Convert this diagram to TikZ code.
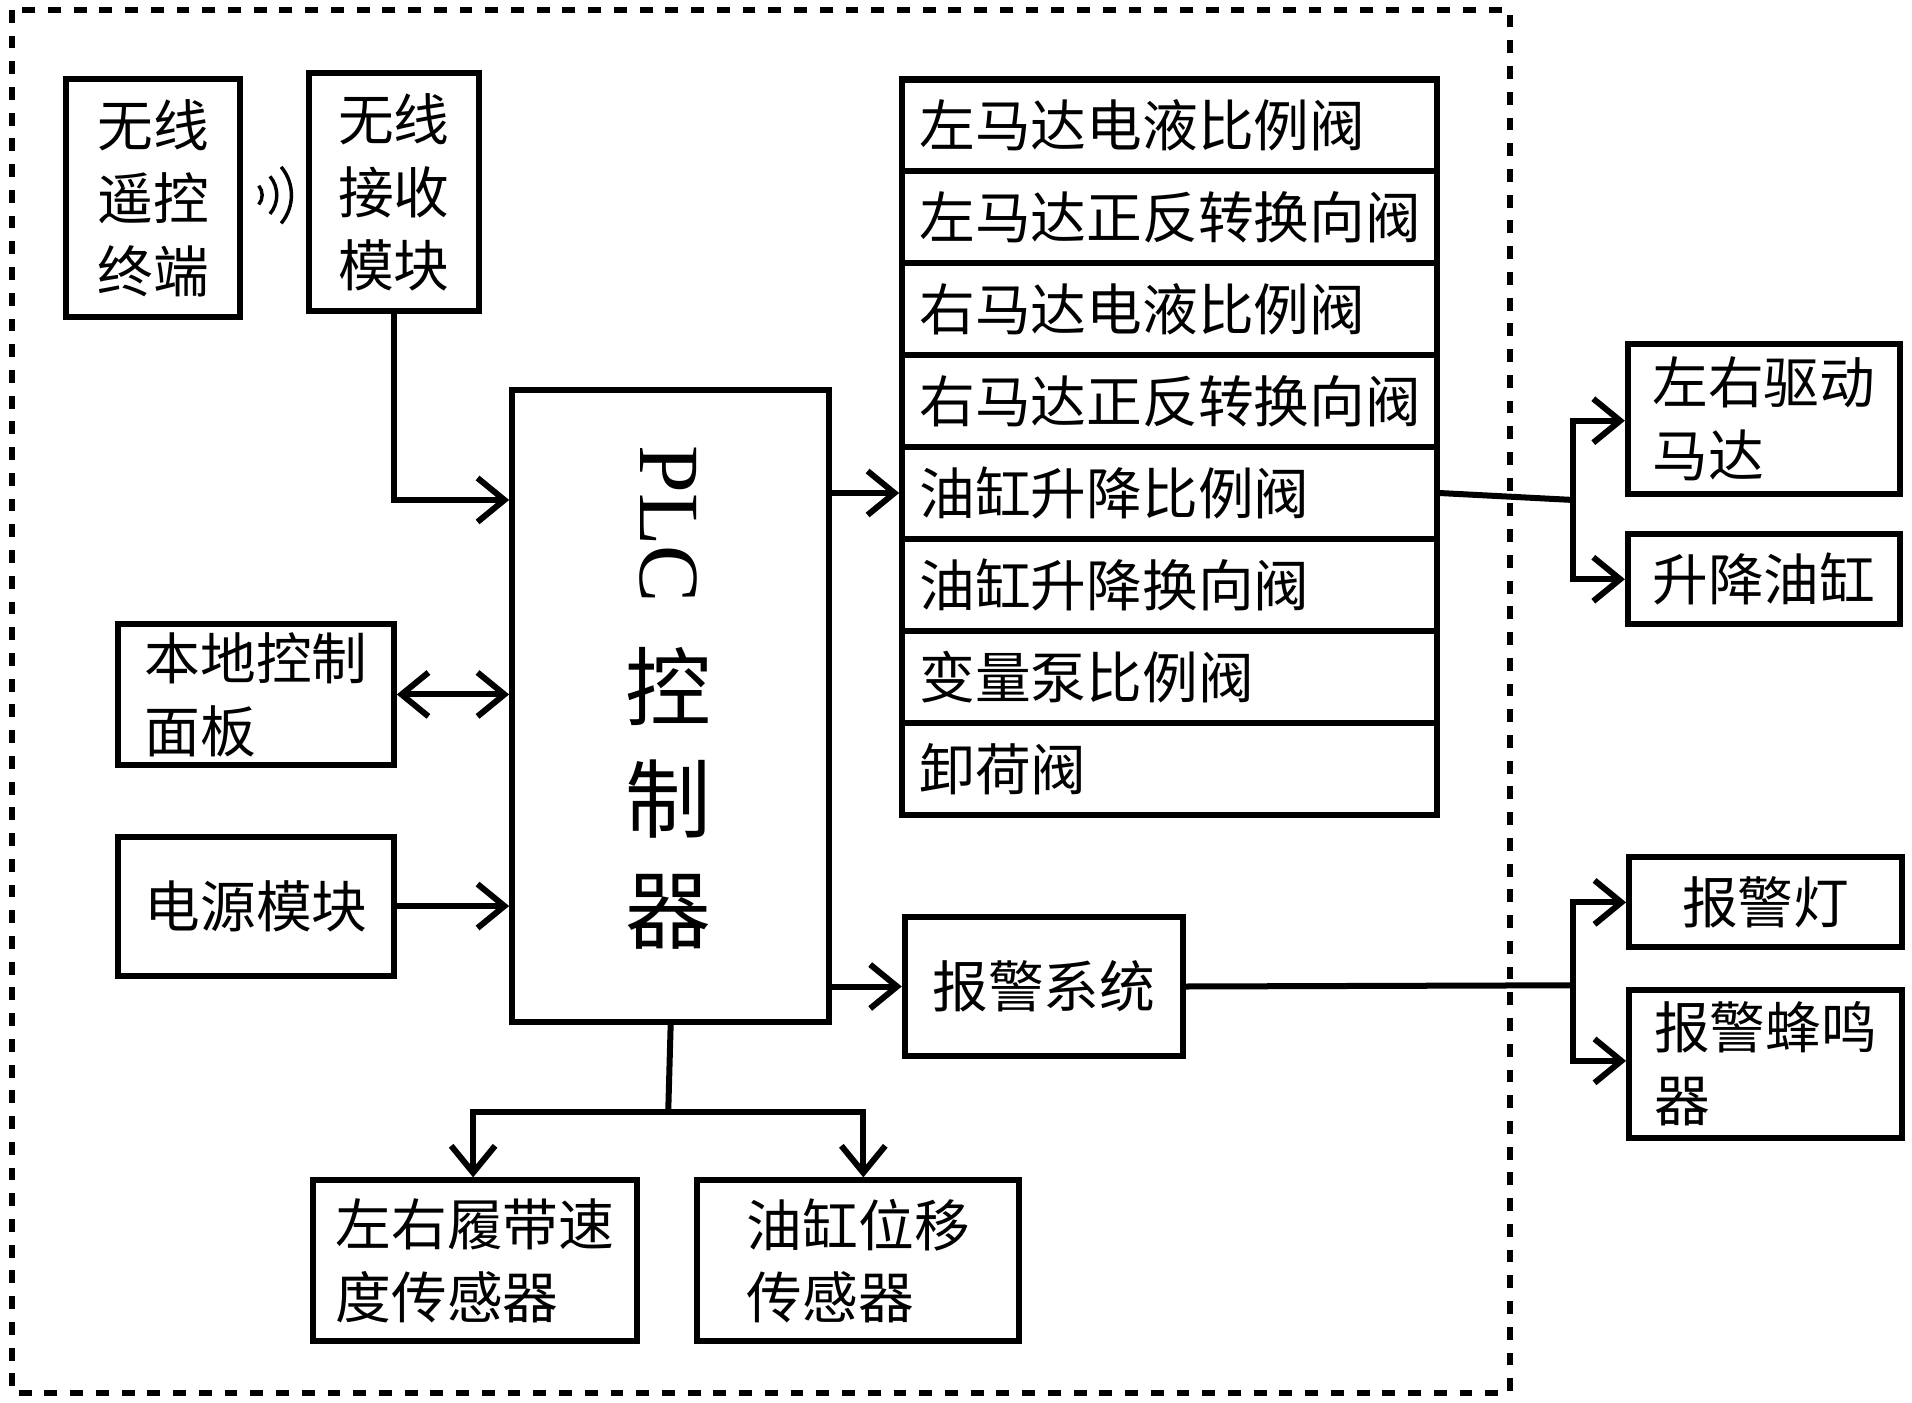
\documentclass[tikz,border=0pt]{standalone}
\usepackage{fontspec}
\setmainfont{Liberation Serif}
\newfontfamily\cjk{Noto Sans CJK SC}
\usetikzlibrary{arrows.meta}
\newcommand{\boxat}[6]{%
  \node[box, minimum width={(#4-#2)*0.01cm}, minimum height={(#5-#3)*0.01cm}]
    (#1) at ({(#2+#4)/2},{(#3+#5)/2}) {#6};}
\begin{document}
\begin{tikzpicture}[x=0.01cm, y=-0.01cm,
    font=\cjk\fontsize{13}{17}\selectfont,
    >={Straight Barb[length=2.2mm,width=3.6mm]},
  ]

  \tikzstyle{box} = [rectangle, draw=black, line width=1.4pt, inner sep=2pt, align=left];
  \tikzstyle{row} = [rectangle, draw=black, line width=1.4pt, minimum width=4.38cm,
                     minimum height=0.75cm, text width=4.1cm, align=left];
  \tikzstyle{wire} = [line width=1.4pt];

  \useasboundingbox (0,0) rectangle (1568,1150);
  \draw[line width=1.4pt, dashed] (10,8) rectangle (1238,1142);

  % Nodes
  \boxat{remote}{54}{65}{197}{260}{无线\\遥控\\终端}
  \boxat{recv}{253}{60}{393}{255}{无线\\接收\\模块}
  \boxat{plc}{420}{320}{680}{838}{}
  \boxat{panel}{97}{512}{323}{627}{本地控制\\面板}
  \boxat{power}{97}{686}{323}{800}{电源模块}
  \boxat{motor}{1335}{282}{1558}{405}{左右驱动\\马达}
  \boxat{cyl}{1335}{438}{1558}{512}{升降油缸}
  \boxat{alarm}{742}{752}{970}{866}{报警系统}
  \boxat{lamp}{1336}{703}{1560}{777}{报警灯}
  \boxat{buzz}{1336}{812}{1560}{933}{报警蜂鸣\\器}
  \boxat{speed}{257}{968}{522}{1100}{左右履带速\\度传感器}
  \boxat{disp}{572}{968}{836}{1100}{油缸位移\\传感器}

  \node[font=\fontsize{20}{24}\selectfont, rotate=-90] (plctxt) at (548,430) {PLC};
  \node[font=\cjk\fontsize{20}{24}\selectfont, align=center] (plccn) at (548,655) {控\\[2pt]制\\[2pt]器};

  % valve stack
  \foreach \t [count=\i] in {左马达电液比例阀, 左马达正反转换向阀, 右马达电液比例阀,
      右马达正反转换向阀, 油缸升降比例阀, 油缸升降换向阀, 变量泵比例阀, 卸荷阀}
    \node[row] (v\i) at (959,{65+75.4*(\i-0.5)}) {\t};

  % wireless waves
  \foreach \r in {12,24,36}
    \draw[line width=0.8pt] ([shift={(-40:\r)}]203,160) arc (-40:40:\r);

  % Arrows
  \draw[wire, ->] (recv.south) |- (plc.west |- 0,410);
  \draw[wire, <->] (panel.east) -- (plc.west |- panel.east);
  \draw[wire, ->] (power.east) -- (plc.west |- power.east);
  \draw[wire, ->] (plc.east |- v5.west) -- (v5.west);
  \draw[wire, ->] (plc.east |- alarm.west) -- (alarm.west);

  \coordinate (jv) at (1290,410);
  \draw[wire] (v5.east) -- (jv);
  \draw[wire, ->] (jv) |- (motor.west |- 0,345);
  \draw[wire, ->] (jv) |- (cyl.west);

  \coordinate (ja) at (1290,808);
  \draw[wire] (alarm.east) -- (ja);
  \draw[wire, ->] (ja) |- (lamp.west |- 0,740);
  \draw[wire, ->] (ja) |- (buzz.west |- 0,870);

  \coordinate (js) at (548,912);
  \draw[wire] (plc.south) -- (js);
  \draw[wire, ->] (js) -| (speed.north -| 388,0);
  \draw[wire, ->] (js) -| (disp.north -| 708,0);

\end{tikzpicture}
\end{document}
